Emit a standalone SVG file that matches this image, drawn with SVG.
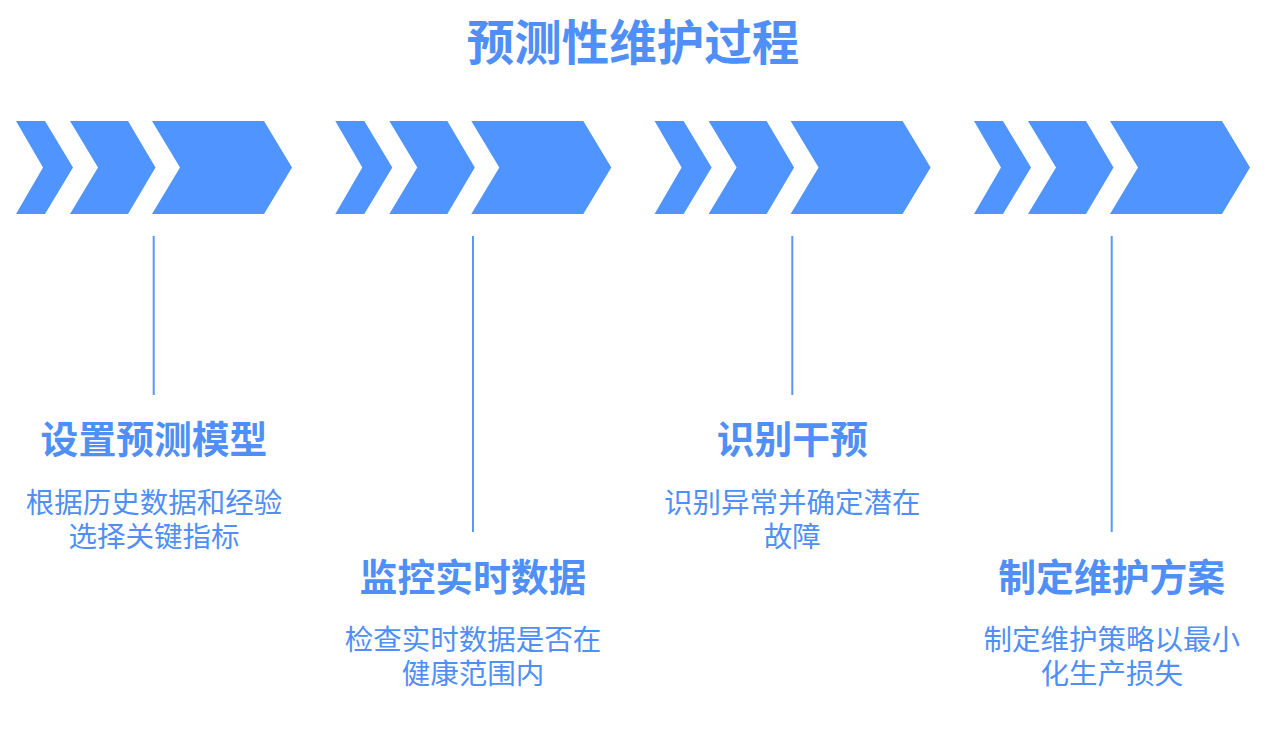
<svg xmlns="http://www.w3.org/2000/svg" width="1284" height="734" viewBox="0 0 1284 734">
<style>
.chev{fill:#5094ff}
.ln{stroke:#5b97f8;stroke-width:2;fill:none}
text{font-family:"Noto Sans CJK SC","Noto Sans",sans-serif;text-anchor:middle;fill:#4f8ff7}
.title{font-size:47.5px;font-weight:700}
.h{font-size:37.8px;font-weight:700}
.d{font-size:28.5px;font-weight:400}
</style>
<defs>
<g id="arrows">
<path class="chev" d="M16,121 L45,121 L73,167.5 L45,214 L16,214 L43,167.5 Z"/>
<path class="chev" d="M70,121 L128,121 L155.5,167.5 L128,214 L70,214 L98,167.5 Z"/>
<path class="chev" d="M152,121 L264,121 L292,167.5 L264,214 L152,214 L180,167.5 Z"/>
</g>
</defs>
<text class="title" x="633" y="59.5">预测性维护过程</text>
<g id="connectors">
<line class="ln" x1="153.7" y1="236" x2="153.7" y2="395"/>
<line class="ln" x1="473" y1="236" x2="473" y2="532"/>
<line class="ln" x1="792.3" y1="236" x2="792.3" y2="395"/>
<line class="ln" x1="1111.7" y1="236" x2="1111.7" y2="532"/>
</g>
<g id="step1">
<use href="#arrows"/>
<text class="h" x="154" y="452.5">设置预测模型</text>
<text class="d" x="154" y="512.5"><tspan x="154">根据历史数据和经验</tspan><tspan x="154" dy="34">选择关键指标</tspan></text>
</g>
<g id="step2">
<use href="#arrows" transform="translate(319.3,0)"/>
<text class="h" x="473" y="590.5">监控实时数据</text>
<text class="d" x="473" y="649.5"><tspan x="473">检查实时数据是否在</tspan><tspan x="473" dy="34">健康范围内</tspan></text>
</g>
<g id="step3">
<use href="#arrows" transform="translate(638.6,0)"/>
<text class="h" x="792.3" y="452.5">识别干预</text>
<text class="d" x="792.3" y="512.5"><tspan x="792.3">识别异常并确定潜在</tspan><tspan x="792.3" dy="34">故障</tspan></text>
</g>
<g id="step4">
<use href="#arrows" transform="translate(958,0)"/>
<text class="h" x="1111.7" y="590.5">制定维护方案</text>
<text class="d" x="1111.7" y="649.5"><tspan x="1111.7">制定维护策略以最小</tspan><tspan x="1111.7" dy="34">化生产损失</tspan></text>
</g>
</svg>
